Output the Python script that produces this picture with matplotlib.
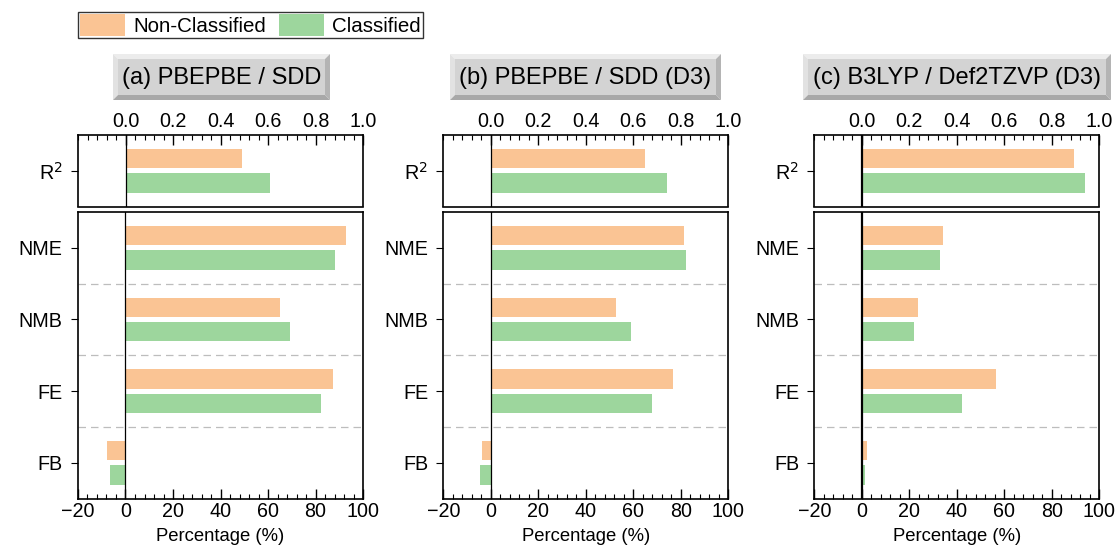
import matplotlib
matplotlib.use("Agg")
import matplotlib.pyplot as plt
from matplotlib.patches import Polygon, Patch
from matplotlib.ticker import MultipleLocator
import numpy as np

plt.rcParams['font.family'] = ['Liberation Sans', 'DejaVu Sans']

# --- datos ---
panel_titles = ["(a) PBEPBE / SDD", "(b) PBEPBE / SDD (D3)", "(c) B3LYP / Def2TZVP (D3)"]
metrics = ["NME", "NMB", "FE", "FB"]
series_names = ["Non-Classified", "Classified"]

r2_nonclass = [0.49, 0.65, 0.895]
r2_class = [0.61, 0.74, 0.94]

err_nonclass = [
    [92.8, 65.0, 87.4, -7.8],
    [81.5, 52.7, 76.8, -3.5],
    [34.1, 23.5, 56.4, 2.0],
]
err_class = [
    [88.2, 69.4, 82.2, -6.4],
    [82.3, 59.0, 67.7, -4.6],
    [32.9, 21.8, 42.0, 1.3],
]

C_NC = "#fac494"
C_C = "#9dd69d"

W, H = 1116, 552
fig = plt.figure(figsize=(W / 100, H / 100), dpi=100)

# capa de fondo en pixeles para las cajas de titulo
bg = fig.add_axes([0, 0, 1, 1], zorder=-1)
bg.set_xlim(0, W)
bg.set_ylim(H, 0)
bg.axis('off')

lefts_px = [78, 443.3, 814.3]
width_px = 285
boxes_px = [(113, 330), (450, 721), (803, 1111)]
box_top, box_bot = 54, 100

off, bh = 0.17, 0.27
TICK_FS = 14.2


def bevel_box(ax, x0, x1, y0, y1, b=5):
    ax.add_patch(Polygon([[x0, y0], [x1, y0], [x1 - b, y0 + b], [x0 + b, y0 + b]], closed=True, fc="#ececec", ec='none'))
    ax.add_patch(Polygon([[x0, y0], [x0 + b, y0 + b], [x0 + b, y1 - b], [x0, y1]], closed=True, fc="#e2e2e2", ec='none'))
    ax.add_patch(Polygon([[x1, y0], [x1, y1], [x1 - b, y1 - b], [x1 - b, y0 + b]], closed=True, fc="#b4b4b4", ec='none'))
    ax.add_patch(Polygon([[x0, y1], [x1, y1], [x1 - b, y1 - b], [x0 + b, y1 - b]], closed=True, fc="#a8a8a8", ec='none'))
    ax.add_patch(Polygon([[x0 + b, y0 + b], [x1 - b, y0 + b], [x1 - b, y1 - b], [x0 + b, y1 - b]], closed=True, fc="#d3d3d3", ec='none'))


def style_ticks(ax):
    ax.tick_params(axis='x', which='major', direction='in', length=7, width=1, labelsize=TICK_FS)
    ax.tick_params(axis='x', which='minor', direction='in', length=3.5, width=0.8)
    ax.tick_params(axis='y', which='major', direction='out', length=5, width=0.8, labelsize=TICK_FS, pad=6)
    for s in ax.spines.values():
        s.set_linewidth(1.2)


for i in range(3):
    left = lefts_px[i] / W
    w = width_px / W

    # --- panel superior: R2 ---
    axt = fig.add_axes([left, 1 - 206.5 / H, w, 71.5 / H])
    axt.barh([-off], [r2_nonclass[i]], height=bh, color=C_NC)
    axt.barh([off], [r2_class[i]], height=bh, color=C_C)
    axt.set_xlim(-0.2, 1.0)
    axt.set_ylim(0.5, -0.5)
    axt.xaxis.set_major_locator(MultipleLocator(0.2))
    axt.xaxis.set_minor_locator(MultipleLocator(0.04))
    axt.xaxis.tick_top()
    axt.set_xticks([0.0, 0.2, 0.4, 0.6, 0.8, 1.0])
    axt.set_xticklabels(["0.0", "0.2", "0.4", "0.6", "0.8", "1.0"])
    axt.set_yticks([0])
    axt.set_yticklabels(["R$^2$"])
    style_ticks(axt)
    axt.tick_params(axis='x', which='both', top=True, bottom=False, pad=3)
    axt.axvline(0, color='black', lw=1.6 if i == 2 else 0.9, zorder=3)

    # --- panel inferior: errores ---
    axb = fig.add_axes([left, 1 - 498.5 / H, w, 286.5 / H])
    y = np.arange(len(metrics))
    axb.barh(y - off, err_nonclass[i], height=bh, color=C_NC)
    axb.barh(y + off, err_class[i], height=bh, color=C_C)
    axb.set_xlim(-20, 100)
    axb.set_ylim(len(metrics) - 0.5, -0.5)
    axb.xaxis.set_major_locator(MultipleLocator(20))
    axb.xaxis.set_minor_locator(MultipleLocator(4))
    axb.set_xticks([-20, 0, 20, 40, 60, 80, 100])
    axb.set_xticklabels(["\u221220", "0", "20", "40", "60", "80", "100"])
    axb.set_yticks(y)
    axb.set_yticklabels(metrics)
    style_ticks(axb)
    axb.tick_params(axis='x', which='major', pad=2.5)
    for k in range(len(metrics) - 1):
        axb.axhline(k + 0.5, color="#bdbdbd", lw=0.9, ls=(0, (6, 4)), zorder=0)
    axb.axvline(0, color='black', lw=1.6 if i == 2 else 0.9, zorder=3)
    axb.set_xlabel("Percentage (%)", fontsize=13.3, labelpad=5)

    # --- caja del titulo ---
    x0, x1 = boxes_px[i]
    bevel_box(bg, x0, x1, box_top, box_bot)
    bg.text((x0 + x1) / 2, (box_top + box_bot) / 2 + 1, panel_titles[i],
            ha='center', va='center', fontsize=17)

handles = [Patch(facecolor=C_NC, edgecolor='none'), Patch(facecolor=C_C, edgecolor='none')]
leg = fig.legend(handles, series_names, loc='upper left', bbox_to_anchor=(78 / W, 1 - 12 / H),
                 ncol=2, frameon=True, fancybox=False, edgecolor='black', fontsize=14.8,
                 borderpad=0.1, handlelength=2.2, handleheight=1.25, handletextpad=0.4,
                 columnspacing=0.6, borderaxespad=0)
leg.get_frame().set_linewidth(1.0)

fig.savefig("out.png", dpi=100)
